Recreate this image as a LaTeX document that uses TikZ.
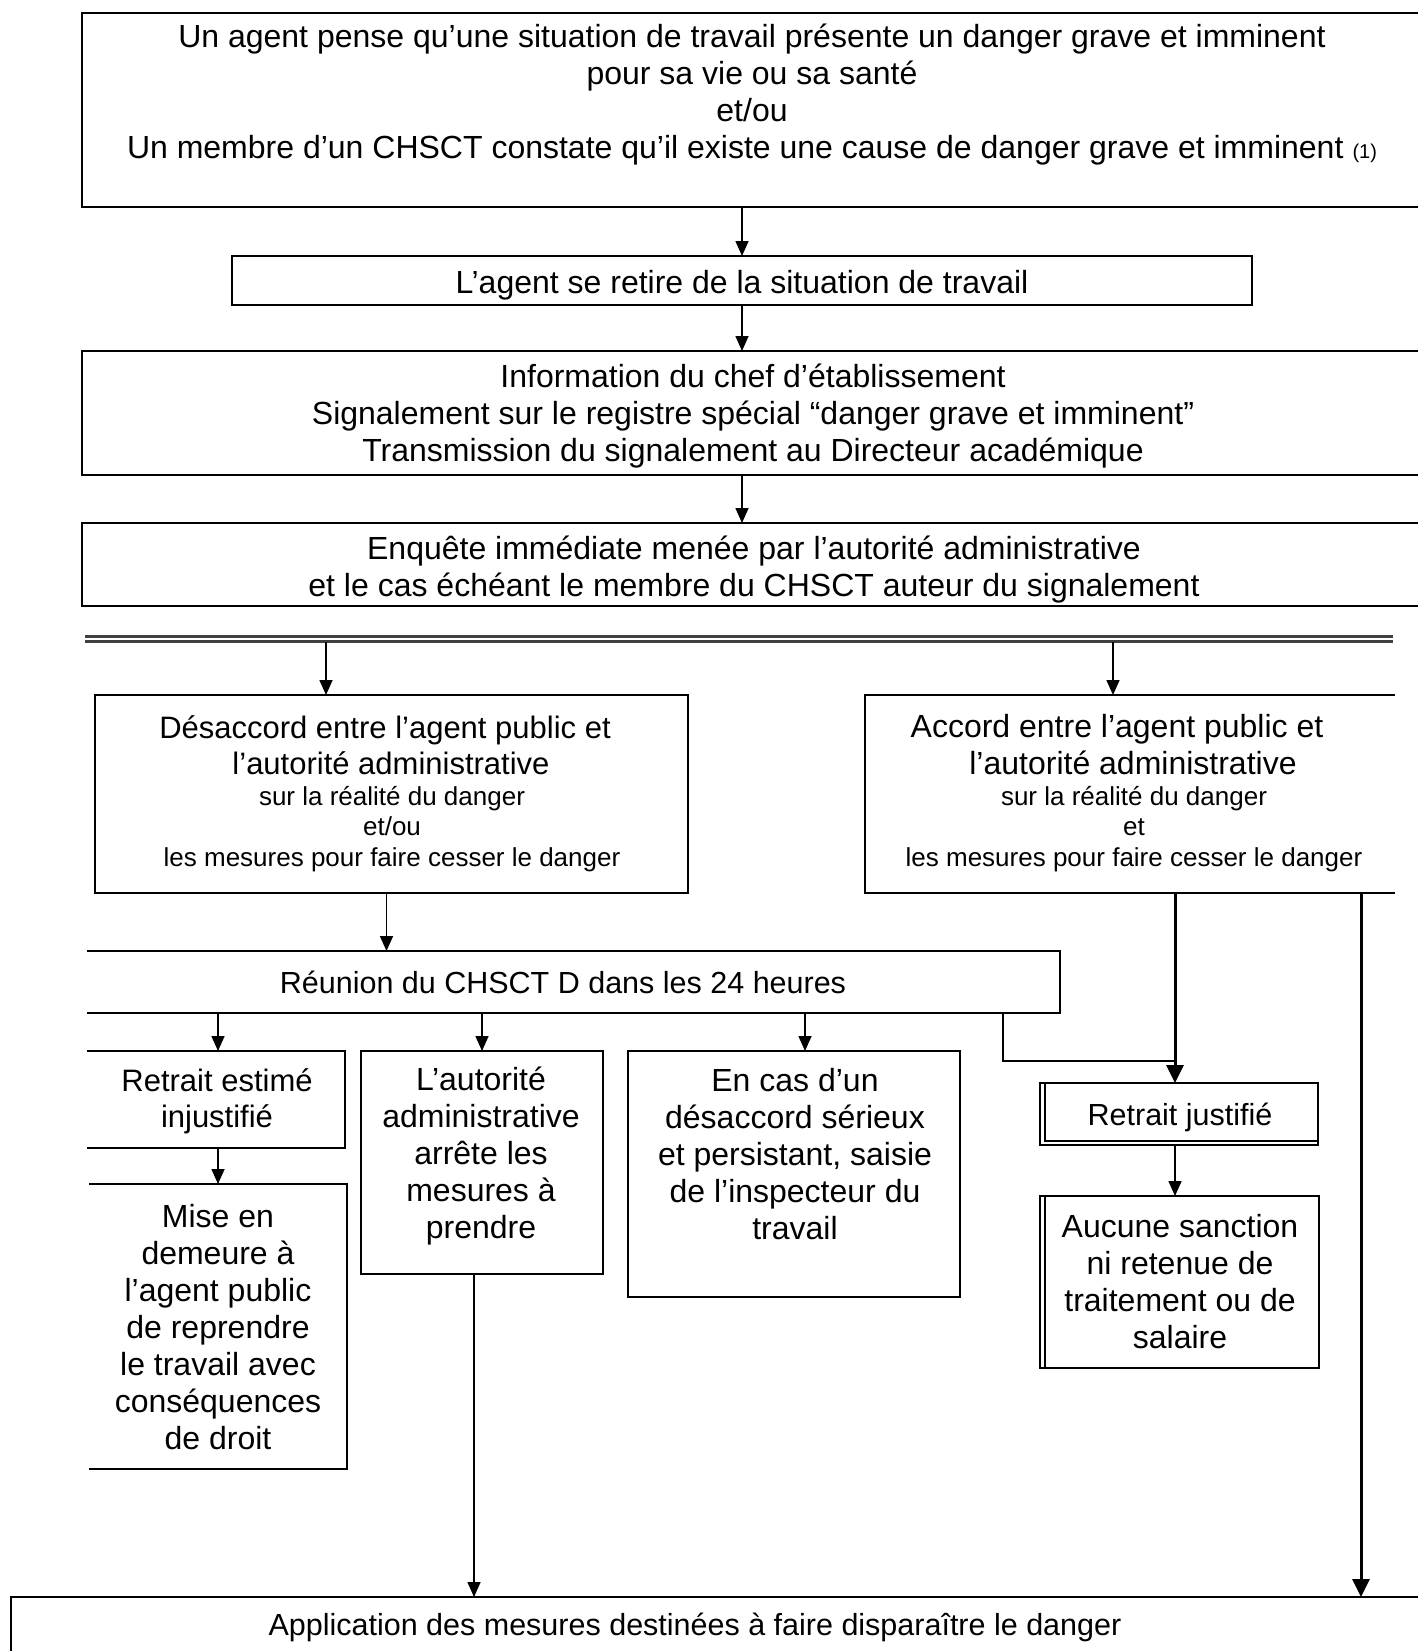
\documentclass[tikz,border=0pt]{standalone}
\usepackage{fontspec}
\setmainfont{Liberation Sans}
\usetikzlibrary{arrows.meta}
\begin{document}
\begin{tikzpicture}[x=1pt,y=-1pt,
  boxshape/.style={draw, line width=1.6pt, rectangle, inner sep=0pt, outer sep=0pt, anchor=north west},
  openbox/.style={draw=none, rectangle, inner sep=0pt, outer sep=0pt, anchor=north west},
  edgeline/.style={line width=1.6pt},
  innerline/.style={line width=1.2pt},
  big/.style={font=\fontsize{32}{37}\selectfont, align=center, inner sep=0pt},
  mid/.style={font=\fontsize{31}{36}\selectfont, align=center, inner sep=0pt},
  narrow/.style={font=\fontsize{30.5}{35}\selectfont, align=center, inner sep=0pt},
  small/.style={font=\fontsize{26}{30.5}\selectfont, align=center, inner sep=0pt},
  arr/.style={line width=1.6pt, -{Triangle[length=15pt,width=13pt]}},
  thickarr/.style={line width=3pt, -{Triangle[length=18pt,width=17pt]}},
  sepline/.style={line width=3pt, black!75}
]
\fill[white] (0,0) rectangle (1418,1651);
\useasboundingbox (0,0) rectangle (1418,1651);

% boxes
\node[openbox, minimum width=1336pt, minimum height=194pt] (top) at (82,13) {};
\node[boxshape, minimum width=1020pt, minimum height=49pt] (b2) at (232,256) {};
\node[openbox, minimum width=1336pt, minimum height=124pt] (b3) at (82,351) {};
\node[openbox, minimum width=1336pt, minimum height=83pt] (b4) at (82,523) {};
\node[boxshape, minimum width=593pt, minimum height=198pt] (des) at (95,695) {};
\node[openbox, minimum width=530pt, minimum height=198pt] (acc) at (865,695) {};
\node[openbox, minimum width=973pt, minimum height=62pt] (chs) at (87,951) {};
\node[openbox, minimum width=258pt, minimum height=97pt] (rei) at (87,1051) {};
\node[openbox, minimum width=258pt, minimum height=285pt] (mise) at (89,1184) {};
\node[boxshape, minimum width=242pt, minimum height=223pt] (aut) at (361,1051) {};
\node[boxshape, minimum width=332pt, minimum height=246pt] (enc) at (628,1051) {};
\node[boxshape, minimum width=278pt, minimum height=62pt] (rj) at (1040,1083) {};
\node[boxshape, minimum width=279pt, minimum height=172pt] (auc) at (1040,1196) {};
\node[openbox, minimum width=1407pt, minimum height=54pt] (bot) at (11,1597) {};

% open-sided borders
\draw[edgeline] (top.north east) -- (top.north west) -- (top.south west) -- (top.south east);
\draw[edgeline] (b3.north east) -- (b3.north west) -- (b3.south west) -- (b3.south east);
\draw[edgeline] (b4.north east) -- (b4.north west) -- (b4.south west) -- (b4.south east);
\draw[edgeline] (acc.north east) -- (acc.north west) -- (acc.south west) -- (acc.south east);
\draw[edgeline] (chs.north west) -- (chs.north east) -- (chs.south east) -- (chs.south west);
\draw[edgeline] (rei.north west) -- (rei.north east) -- (rei.south east) -- (rei.south west);
\draw[edgeline] (mise.north west) -- (mise.north east) -- (mise.south east) -- (mise.south west);
\draw[edgeline] (bot.south west) -- (bot.north west) -- (bot.north east);
% double edges
\draw[innerline] ([xshift=5pt,yshift=-1pt]rj.north west) -- ([xshift=5pt,yshift=4pt]rj.south west) -- ([yshift=4pt]rj.south east);
\draw[innerline] ([xshift=5pt,yshift=-1pt]auc.north west) -- ([xshift=5pt]auc.south west);

% separator
\coordinate (sepL) at (85,636);
\coordinate (sepR) at (1393,636);
\draw[sepline] (sepL) -- (sepR);
\draw[sepline] ([yshift=-5pt]sepL) -- ([yshift=-5pt]sepR);
\coordinate (sepA) at (326,642);
\coordinate (sepB) at (1113,642);

% texts
\node[big] (topT) at (752,95) {Un agent pense qu’une situation de travail présente un danger grave et imminent\\pour sa vie ou sa santé\\et/ou\\Un membre d’un CHSCT constate qu’il existe une cause de danger grave et imminent {\fontsize{20}{22}\selectfont (1)}};
\node[big] (b2T) at (742,285) {L’agent se retire de la situation de travail};
\node[big] (b3T) at (753,416) {Information du chef d’établissement\\Signalement sur le registre spécial “danger grave et imminent”\\Transmission du signalement au Directeur académique};
\node[big] (b4T) at (754,570) {Enquête immédiate menée par l’autorité administrative\\et le cas échéant le membre du CHSCT auteur du signalement};
\node[mid] (desT1) at (391,745) {Désaccord entre l’agent public et\hspace*{12pt}\\l’autorité administrative};
\node[small] (desT2) at (392,829) {sur la réalité du danger\\et/ou\\les mesures pour faire cesser le danger};
\node[big] (accT1) at (1133,745) {Accord entre l’agent public et\hspace*{32pt}\\l’autorité administrative};
\node[small] (accT2) at (1134,829) {sur la réalité du danger\\et\\les mesures pour faire cesser le danger};
\node[narrow] (chsT) at (563,982) {Réunion du CHSCT D dans les 24 heures};
\node[mid] (reiT) at (217,1101) {Retrait estimé\\injustifié};
\node[big] (miseT) at (218,1327) {Mise en\\demeure à\\l’agent public\\de reprendre\\le travail avec\\conséquences\\de droit};
\node[big] (autT) at (481,1156) {L’autorité\\administrative\\arrête les\\mesures à\\prendre};
\node[big] (encT) at (795,1154) {En cas d’un\\désaccord sérieux\\et persistant, saisie\\de l’inspecteur du\\travail};
\node[narrow] (rjT) at (1180,1117) {Retrait justifié};
\node[big] (aucT) at (1180,1282) {Aucune sanction\\ni retenue de\\traitement ou de\\salaire};
\node[narrow] (botT) at (695,1627) {Application des mesures destinées à faire disparaître le danger};

% connectors
\draw[arr] (top.south -| b2.north) -- (b2.north);
\draw[arr] (b2.south) -- (b2.south |- b3.north);
\draw[arr] (b3.south -| b2.south) -- (b2.south |- b4.north);
\draw[arr] (sepA) -- (sepA |- des.north);
\draw[arr] (sepB) -- (sepB |- acc.north);
\coordinate (desA) at ([xshift=-5pt]des.south);
\draw[arr] (desA) -- (desA |- chs.north);
\coordinate (reiA) at ([xshift=2pt]rei.north);
\draw[arr] (reiA |- chs.south) -- (reiA);
\draw[arr] (aut.north |- chs.south) -- (aut.north);
\coordinate (encA) at ([xshift=11pt]enc.north);
\draw[arr] (encA |- chs.south) -- (encA);
\draw[arr] (reiA |- rei.south) -- (reiA |- mise.north);
\coordinate (rjA) at ([xshift=-4pt]rj.north);
\draw[thickarr] (acc.south -| rjA) -- (rjA);
\coordinate (chsJ) at ([xshift=916pt]chs.south west);
\draw[edgeline] (chsJ) |- (rjA |- 0,1061);
\draw[arr] (rjA |- rj.south) -- (rjA |- auc.north);
\coordinate (autA) at ([xshift=-8pt]aut.south);
\draw[arr] (autA) -- (autA |- bot.north);
\coordinate (accR) at ([xshift=496pt]acc.south west);
\draw[thickarr] (accR) -- (accR |- bot.north);
\end{tikzpicture}
\end{document}
